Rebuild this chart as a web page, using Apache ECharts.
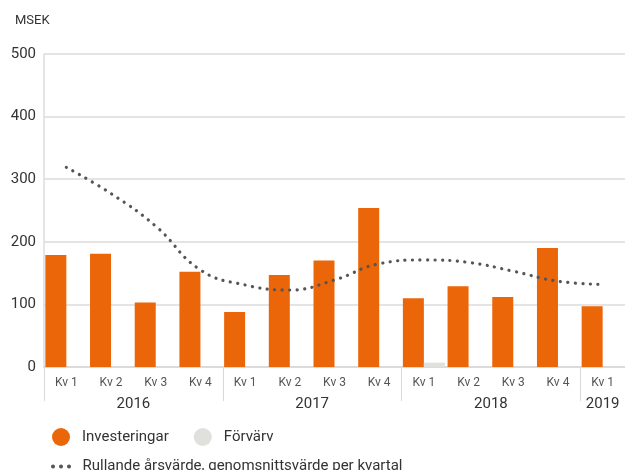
<!DOCTYPE html>
<html>
<head>
<meta charset="utf-8">
<script src="https://cdn.jsdelivr.net/npm/echarts@6/dist/echarts.min.js"></script>
<style>
  html, body { margin: 0; padding: 0; background: #fff; }
  #chart { width: 625px; height: 470px; }
</style>
</head>
<body>
<div id="chart"></div>
<script>
// quarters on the x axis
var quarters = ['Kv 1', 'Kv 2', 'Kv 3', 'Kv 4', 'Kv 1', 'Kv 2', 'Kv 3', 'Kv 4',
  'Kv 1', 'Kv 2', 'Kv 3', 'Kv 4', 'Kv 1'];
var years = ['2016', '2017', '2018', '2019'];
var yearCenters = [2, 6, 10, 12.5];   // in quarter units
var yearBounds = [0, 4, 8, 12];

var investeringar = [179, 181, 103, 152, 88, 147, 170, 254, 110, 129, 112, 190, 97];
var forvarv = [0, 0, 0, 0, 0, 0, 0, 0, 7, 0, 0, 0, 0];
var rullande = [319, 277, 225, 155, 131, 123, 139, 165, 171, 167, 153, 137, 132];

var font = 'Roboto, "Noto Sans", sans-serif';
var chart = echarts.init(document.getElementById('chart'));

var option = {
  animation: false,
  textStyle: { fontFamily: font },
  title: {
    text: 'MSEK',
    left: 10,
    top: 9,
    textStyle: { fontSize: 13, fontWeight: 'normal', color: '#333', fontFamily: font }
  },
  grid: { left: 44, top: 54, width: 585, height: 313 },
  legend: [{
    data: ['Investeringar', 'Förvärv'],
    left: 47,
    top: 423,
    icon: 'circle',
    itemWidth: 18,
    itemHeight: 18,
    itemGap: 25,
    textStyle: { fontSize: 15, color: '#333', padding: [0, 0, 0, 7] }
  }, {
    data: ['Rullande årsvärde, genomsnittsvärde per kvartal'],
    left: 46,
    top: 454,
    icon: 'path://M0,2a2,2 0 1,0 4,0a2,2 0 1,0 -4,0M8,2a2,2 0 1,0 4,0a2,2 0 1,0 -4,0M16,2a2,2 0 1,0 4,0a2,2 0 1,0 -4,0',
    itemWidth: 21,
    itemHeight: 4,
    textStyle: { fontSize: 15, color: '#333', padding: [0, 0, 0, 6] }
  }],
  xAxis: [{
    type: 'category',
    data: quarters,
    axisLine: { lineStyle: { color: '#d8d8d8', width: 1.5 } },
    axisTick: { alignWithLabel: false, interval: 0, length: 26, lineStyle: { color: '#d6d6d6', type: 'dotted' } },
    axisLabel: { interval: 0, fontSize: 12, color: '#555', margin: 10 }
  }, {
    type: 'value',
    position: 'bottom',
    min: 0,
    max: 13,
    axisLine: { show: false },
    splitLine: { show: false },
    axisTick: { customValues: yearBounds, length: 34, lineStyle: { color: '#d8d8d8' } },
    axisLabel: {
      customValues: yearCenters,
      margin: 30,
      fontSize: 15,
      color: '#333',
      formatter: function (v) { return years[yearCenters.indexOf(v)]; }
    }
  }],
  yAxis: {
    type: 'value',
    min: 0,
    max: 500,
    interval: 100,
    axisLine: { show: true, lineStyle: { color: '#dcdcdc', width: 1.5 } },
    axisTick: { show: false },
    splitLine: { lineStyle: { color: '#e4e4e4', width: 2 } },
    axisLabel: { fontSize: 15, color: '#333', margin: 8 }
  },
  series: [{
    name: 'Investeringar',
    type: 'bar',
    data: investeringar,
    barWidth: 21,
    barGap: '0%',
    itemStyle: { color: '#eb6608' }
  }, {
    name: 'Förvärv',
    type: 'bar',
    data: forvarv,
    barWidth: 21,
    itemStyle: { color: '#e0e0dc' }
  }, {
    name: 'Rullande årsvärde, genomsnittsvärde per kvartal',
    type: 'line',
    data: rullande,
    smooth: 0.45,
    showSymbol: false,
    symbol: 'none',
    itemStyle: { color: '#555' },
    lineStyle: { color: '#555', width: 3.2, type: [0.1, 7.4], cap: 'round' },
    z: 5
  }]
};

chart.setOption(option);
</script>
</body>
</html>
